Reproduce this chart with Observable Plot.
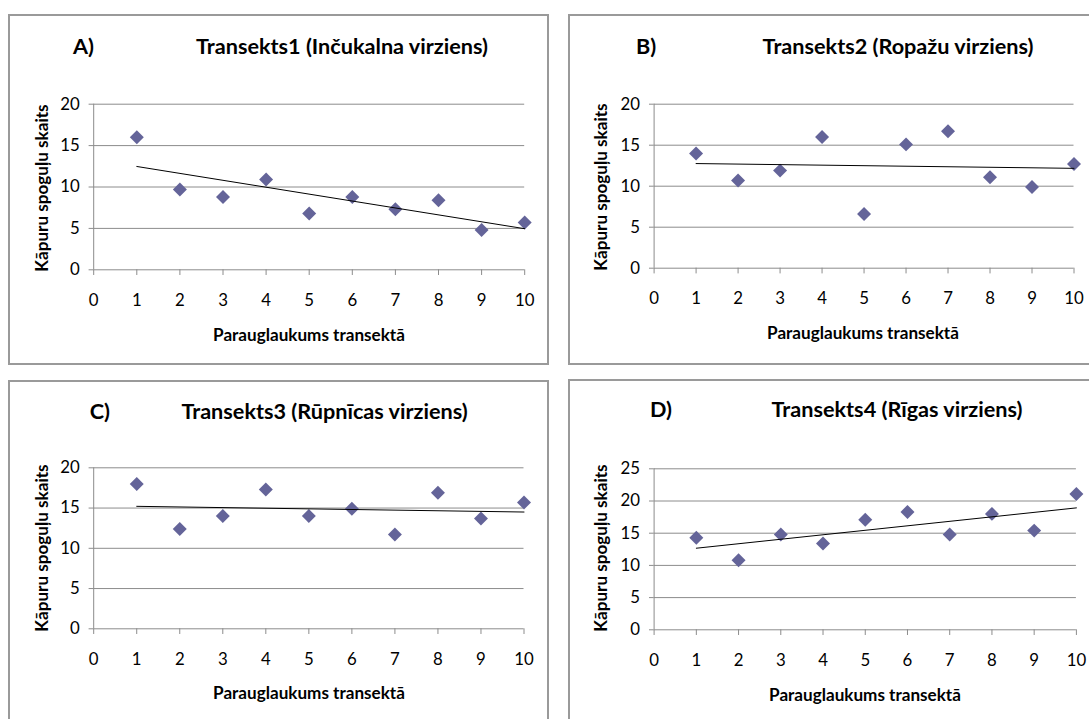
<!DOCTYPE html>
<html><head><meta charset="utf-8">
<script src="https://cdn.jsdelivr.net/npm/d3@7"></script>
<script src="https://cdn.jsdelivr.net/npm/@observablehq/plot@0.6"></script>
<style>
body{margin:0;background:#fff;font-family:Lato, sans-serif;}
#root{position:relative;width:1089px;height:719px;overflow:hidden;background:#fff;}
.panel{position:absolute;box-sizing:border-box;border:2px solid #9a9a9a;}
.plotwrap{position:absolute;}
.plotwrap svg{display:block;overflow:visible;max-width:none !important;}
.t{position:absolute;font-weight:bold;white-space:nowrap;color:#000;line-height:1;font-family:Lato, sans-serif;}
</style></head><body><div id="root"></div>
<script>
// ---- data ----
const plotsX = [1, 2, 3, 4, 5, 6, 7, 8, 9, 10];
const xTicks = [0, 1, 2, 3, 4, 5, 6, 7, 8, 9, 10];
const seriesA = [16.0, 9.7, 8.8, 10.9, 6.8, 8.8, 7.3, 8.4, 4.8, 5.7];
const seriesB = [14.0, 10.7, 11.9, 16.0, 6.6, 15.1, 16.7, 11.1, 9.9, 12.7];
const seriesC = [18.0, 12.4, 14.0, 17.3, 14.0, 14.9, 11.7, 16.9, 13.7, 15.7];
const seriesD = [14.3, 10.8, 14.8, 13.4, 17.1, 18.3, 14.8, 18.0, 15.4, 21.1];
const yTicks20 = [0, 5, 10, 15, 20];
const yTicks25 = [0, 5, 10, 15, 20, 25];
const letters = ["A)", "B)", "C)", "D)"];
const titles = [
  "Transekts1 (Inčukalna virziens)",
  "Transekts2 (Ropažu virziens)",
  "Transekts3 (Rūpnīcas virziens)",
  "Transekts4 (Rīgas virziens)"
];
const xLabel = "Parauglaukums transektā";
const yLabel = "Kāpuru spoguļu skaits";

// ---- layout ----
const panels = [
  {series: seriesA, yTicks: yTicks20, box: {left: 8, top: 14, w: 541, h: 351},
   m: {l: 85.2, r: 24.8, t: 89.7, b: 95.7},
   letter: {x: 73, y: 47}, title: {x: 342, y: 47}, xl: {x: 309, y: 335}, yl: {x: 41.7, y: 187.5}},
  {series: seriesB, yTicks: yTicks20, box: {left: 568, top: 14, w: 530, h: 351},
   m: {l: 85.6, r: 24.5, t: 89.7, b: 97.3},
   letter: {x: 636, y: 47}, title: {x: 898, y: 47}, xl: {x: 863, y: 333.3}, yl: {x: 600.5, y: 186.7}},
  {series: seriesC, yTicks: yTicks20, box: {left: 8, top: 380, w: 541, h: 345},
   m: {l: 85.2, r: 25.5, t: 87.3, b: 96.7},
   letter: {x: 89.7, y: 411.7}, title: {x: 324.6, y: 411.7}, xl: {x: 309, y: 692.7}, yl: {x: 41.7, y: 548}},
  {series: seriesD, yTicks: yTicks25, box: {left: 568, top: 379, w: 530, h: 346},
   m: {l: 85.6, r: 22.1, t: 89.3, b: 95.7},
   letter: {x: 650, y: 410}, title: {x: 897, y: 410}, xl: {x: 865, y: 695}, yl: {x: 600.5, y: 548.3}}
];

const ctx = document.createElement("canvas").getContext("2d");
function fit(text, target, weight) {
  ctx.font = weight + " 100px Lato";
  return 100 * target / ctx.measureText(text).width;
}
const titleSize = fit(titles[0], 292.7, "bold");
const axisSize = fit(xLabel, 192, "bold");
const tickSize = fit("20", 19.5, "normal");

const root = document.getElementById("root");
function addText(txt, x, y, size, mode) {
  const d = document.createElement("div");
  d.className = "t";
  d.textContent = txt;
  d.style.fontSize = size + "px";
  d.style.left = x + "px";
  d.style.top = y + "px";
  if (mode === "left") d.style.transform = "translate(0,-50%)";
  else if (mode === "rot") d.style.transform = "translate(-50%,-50%) rotate(-90deg)";
  else d.style.transform = "translate(-50%,-50%)";
  root.appendChild(d);
}

panels.forEach((p, i) => {
  const border = document.createElement("div");
  border.className = "panel";
  Object.assign(border.style, {left: p.box.left + "px", top: p.box.top + "px", width: p.box.w + "px", height: p.box.h + "px"});
  root.appendChild(border);

  const data = plotsX.map((x, k) => ({x, y: p.series[k]}));
  const yMax = p.yTicks[p.yTicks.length - 1];
  const chart = Plot.plot({
    width: p.box.w, height: p.box.h,
    marginLeft: p.m.l, marginRight: p.m.r, marginTop: p.m.t, marginBottom: p.m.b,
    style: {fontFamily: "Lato, sans-serif", fontSize: tickSize + "px", background: "transparent", overflow: "visible", maxWidth: "none"},
    x: {domain: [0, 10]},
    y: {domain: [0, yMax]},
    marks: [
      Plot.gridY(p.yTicks, {stroke: "#8c8c8c", strokeOpacity: 1, strokeWidth: 1}),
      Plot.ruleX([0], {stroke: "#8c8c8c", strokeWidth: 1}),
      Plot.axisY(p.yTicks, {tickSize: 4.6, tickPadding: 9.4, stroke: "#8c8c8c", fill: "#000", label: null, fontSize: tickSize}),
      Plot.axisX(xTicks, {tickSize: 5.7, tickPadding: 18.3, stroke: "#8c8c8c", fill: "#000", label: null, fontSize: tickSize}),
      Plot.dot(data, {x: "x", y: "y", symbol: "diamond2", r: 6.3, fill: "#646499"}),
      Plot.linearRegressionY(data, {x: "x", y: "y", stroke: "#000", strokeWidth: 1, ci: 0})
    ]
  });
  const wrap = document.createElement("div");
  wrap.className = "plotwrap";
  wrap.style.left = p.box.left + "px";
  wrap.style.top = p.box.top + "px";
  wrap.style.width = p.box.w + "px";
  wrap.style.height = p.box.h + "px";
  wrap.appendChild(chart);
  root.appendChild(wrap);

  addText(letters[i], p.letter.x, p.letter.y, titleSize, "left");
  addText(titles[i], p.title.x, p.title.y, titleSize, "center");
  addText(xLabel, p.xl.x, p.xl.y, axisSize, "center");
  addText(yLabel, p.yl.x, p.yl.y, axisSize, "rot");
});
</script></body></html>
